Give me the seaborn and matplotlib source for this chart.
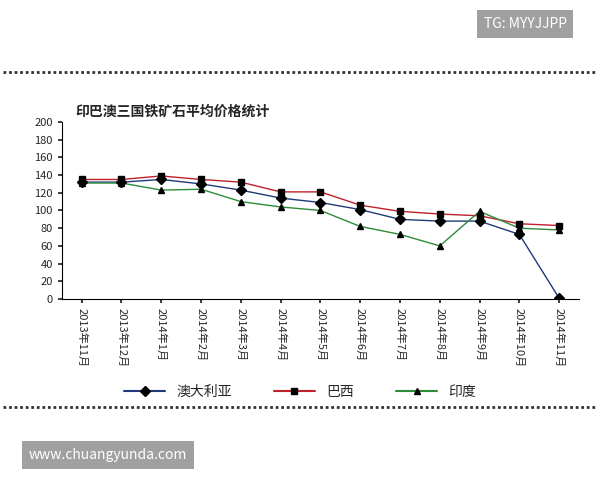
import matplotlib
matplotlib.use("Agg")
import matplotlib.pyplot as plt
import seaborn as sns
import pandas as pd

months = ["2013年11月","2013年12月","2014年1月","2014年2月","2014年3月","2014年4月","2014年5月",
          "2014年6月","2014年7月","2014年8月","2014年9月","2014年10月","2014年11月"]
australia = [132,132,135,130,123,114,109,101,90,88,88,73,1]
brazil = [135,135,139,135,132,121,121,106,99,96,94,85,83]
india = [131,131,123,124,110,104,100,82,73,60,99,80,78]

sns.set_theme(style="white")
plt.rcParams['font.family'] = ['Noto Sans CJK SC', 'DejaVu Sans']

fig = plt.figure(figsize=(6,4.8), dpi=100)
ax = fig.add_axes([0.103, 0.377, 0.862, 0.369])
x = list(range(len(months)))
df = pd.DataFrame({"x": x*3, "v": australia+brazil+india,
                   "s": ["澳大利亚"]*13+["巴西"]*13+["印度"]*13})
pal = {"澳大利亚": "#1f3a7a", "巴西": "#c0202a", "印度": "#2e8b3a"}
sns.lineplot(data=df, x="x", y="v", hue="s", palette=pal, ax=ax, legend=False, linewidth=1)
for vals, m, name in [(australia,"D","澳大利亚"),(brazil,"s","巴西"),(india,"^","印度")]:
    ax.plot(x, vals, linestyle="none", marker=m, color="black", markersize=5)
ax.set_xlim(-0.5, 12.5)
ax.set_ylim(0, 200)
ax.set_yticks(range(0,201,20))
ax.set_xticks(x)
ax.set_xticklabels(months, rotation=270, fontsize=8)
ax.tick_params(axis='y', labelsize=8, left=True, length=3)
ax.tick_params(axis='x', bottom=True, length=3)
ax.set_xlabel(""); ax.set_ylabel("")
for s in ["top","right"]:
    ax.spines[s].set_visible(False)
for s in ["left","bottom"]:
    ax.spines[s].set_color("black"); ax.spines[s].set_linewidth(0.8)

fig.text(0.125, 0.76, "印巴澳三国铁矿石平均价格统计", fontsize=10, fontweight="bold")
from matplotlib.lines import Line2D
handles = [Line2D([],[],color=pal[n],marker=m,markerfacecolor="black",markeredgecolor="black",markersize=5)
           for n,m in [("澳大利亚","D"),("巴西","s"),("印度","^")]]
fig.legend(handles, ["澳大利亚","巴西","印度"], loc="center", bbox_to_anchor=(0.5,0.183),
           ncol=3, frameon=False, fontsize=10, handlelength=3, columnspacing=3)

fig.add_artist(Line2D([0.005,0.995],[0.85,0.85], color="#333", linestyle=(0,(1,1)), linewidth=2))
fig.add_artist(Line2D([0.005,0.995],[0.152,0.152], color="#333", linestyle=(0,(1,1)), linewidth=2))
fig.text(0.875, 0.95, "TG: MYYJJPP", fontsize=10, color="white", ha="center", va="center",
         bbox=dict(boxstyle="square,pad=0.5", fc="#a0a0a0", ec="none"))
fig.text(0.18, 0.053, "www.chuangyunda.com", fontsize=10, color="white", ha="center", va="center",
         bbox=dict(boxstyle="square,pad=0.5", fc="#a0a0a0", ec="none"))
fig.savefig("out.png", dpi=100)
